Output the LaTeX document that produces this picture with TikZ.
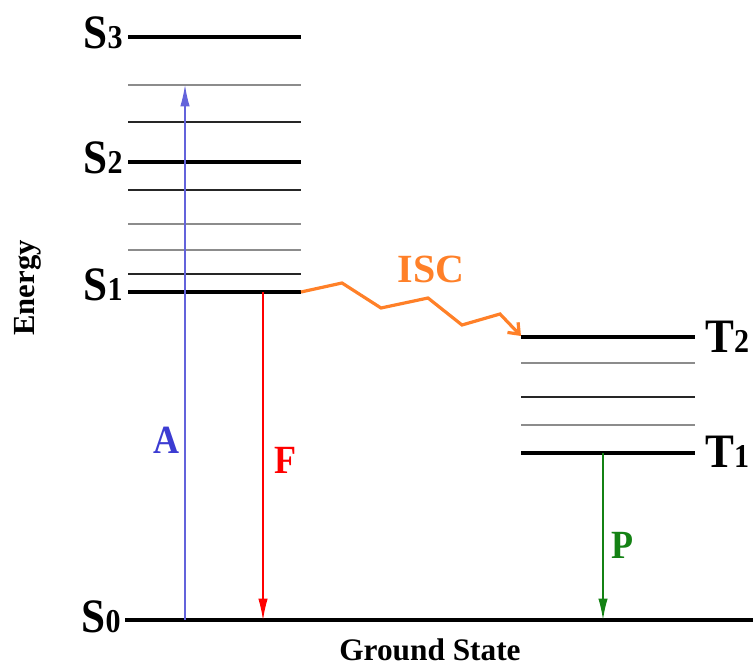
\documentclass[tikz,border=0pt]{standalone}
\usepackage{fontspec}
\setmainfont{Liberation Serif}
\newfontfamily\narrowserif[FakeStretch=0.9]{Liberation Serif}
\usetikzlibrary{arrows.meta}
\tikzset{
  level/.style={line width=3.6pt, black},
  sublevel/.style={line width=1.2pt, black!85},
  greylevel/.style={line width=1.2pt, black!45},
  trans/.style={-{Latex[length=16pt,width=7pt]}},
  statename/.style={inner sep=0pt, font=\narrowserif\bfseries\fontsize{36}{36}\selectfont},
  translabel/.style={inner sep=0pt, anchor=base, font=\narrowserif\bfseries\fontsize{30}{30}\selectfont}
}
\definecolor{iscorange}{RGB}{255,128,40}
\definecolor{pgreen}{RGB}{20,130,20}
\definecolor{ablue}{RGB}{60,60,210}
\newcommand{\statelbl}[2]{#1{\fontsize{25}{25}\selectfont #2}}

\begin{document}
\begin{tikzpicture}[x=0.75pt, y=-0.75pt]
  \useasboundingbox (0,0) rectangle (753,666);
  % singlet manifold
  \draw[level] (128,37) -- (301,37);
  \draw[greylevel] (128,85) -- (301,85);
  \draw[sublevel] (128,122) -- (301,122);
  \draw[level] (128,162) -- (301,162);
  \draw[sublevel] (128,190) -- (301,190);
  \draw[greylevel] (128,224) -- (301,224);
  \draw[greylevel] (128,250) -- (301,250);
  \draw[sublevel] (128,274) -- (301,274);
  \draw[level] (128,292) -- (301,292);
  % triplet manifold
  \draw[level] (521,337) -- (695,337);
  \draw[greylevel] (521,363) -- (695,363);
  \draw[sublevel] (521,397) -- (695,397);
  \draw[greylevel] (521,425) -- (695,425);
  \draw[level] (521,453) -- (695,453);
  % ground state
  \draw[level] (125,620) -- (753,620);

  \node[statename, anchor=base east] (s3) at (123,49) {\statelbl{S}{3}};
  \node[statename, anchor=base east] (s2) at (123,174) {\statelbl{S}{2}};
  \node[statename, anchor=base east] (s1) at (123,301) {\statelbl{S}{1}};
  \node[statename, anchor=base east] (s0) at (121,632) {\statelbl{S}{0}};
  \node[statename, anchor=base west] (t2) at (705,353) {\statelbl{T}{2}};
  \node[statename, anchor=base west] (t1) at (705,467) {\statelbl{T}{1}};

  \node[inner sep=0pt, rotate=90, font=\bfseries\fontsize{23}{23}\selectfont] (energy) at (28,288) {Energy};
  \node[inner sep=0pt, anchor=base, font=\bfseries\fontsize{23.5}{23.5}\selectfont] (ground) at (430,660) {Ground State};

  % transition end points
  \coordinate (absfrom) at (185,620);
  \coordinate (absto) at (185,85);
  \coordinate (flfrom) at (263,292);
  \coordinate (flto) at (263,620);
  \coordinate (phfrom) at (603,453);
  \coordinate (phto) at (603,620);
  \coordinate (iscfrom) at (301,292);
  \coordinate (iscto) at (521,336);

  \draw[trans, ablue!80, line width=0.8pt] (absfrom) -- (absto);
  \draw[trans, red, line width=0.8pt] (flfrom) -- (flto);
  \draw[trans, pgreen, line width=1.2pt] (phfrom) -- (phto);
  \draw[iscorange, line width=2.4pt, line join=miter, -{Straight Barb[length=7pt,width=11pt]}]
    (iscfrom) -- (342,283) -- (381,308) -- (428,298) -- (462,325) -- (500,314) -- (iscto);

  \node[translabel, ablue] (lblA) at (166,453) {A};
  \node[translabel, red] (lblF) at (285,473) {F};
  \node[translabel, pgreen] (lblP) at (622,558) {P};
  \node[inner sep=0pt, anchor=base, text=iscorange, font=\bfseries\fontsize{30}{30}\selectfont] (lblisc) at (431,283) {ISC};
\end{tikzpicture}
\end{document}
